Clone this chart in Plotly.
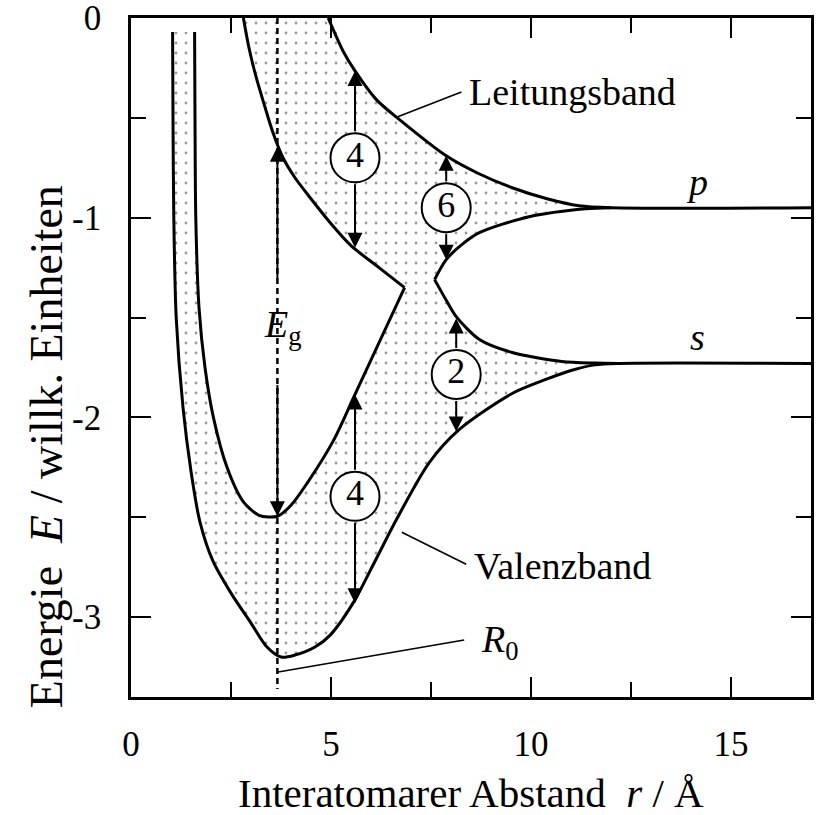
import plotly.graph_objects as go

# ---------------- data ----------------
# outer curve: lower edge of the valence band
val_low_r = [1.04, 1.05, 1.07, 1.13, 1.3, 1.5, 1.72, 2.05, 2.5, 3.0, 3.4, 3.75, 4.1, 4.6, 4.98, 5.55, 6.1, 6.64, 7.46, 8.21, 9.53, 10.37, 11.0, 11.6, 12.2, 17.0]
val_low_E = [-0.07, -0.5, -1.0, -1.5, -1.95, -2.27, -2.52, -2.72, -2.88, -3.03, -3.15, -3.2, -3.19, -3.15, -3.09, -2.93, -2.72, -2.51, -2.225, -2.06, -1.88, -1.81, -1.765, -1.737, -1.73, -1.73]

# V-shaped curve: upper edge of the valence band at small r
val_up_r = [1.59, 1.60, 1.62, 1.70, 1.85, 2.06, 2.4, 2.8, 3.2, 3.66, 4.0, 4.4, 5.05, 5.6, 6.84]
val_up_E = [-0.07, -0.5, -1.0, -1.45, -1.75, -2.0, -2.25, -2.42, -2.49, -2.495, -2.44, -2.33, -2.12, -1.885, -1.35]

# lower edge of the conduction band at small r
cond_low_r = [2.81, 2.95, 3.12, 3.31, 3.55, 3.8, 4.1, 4.48, 5.0, 5.5, 6.2, 6.84]
cond_low_E = [0.0, -0.15, -0.29, -0.42, -0.575, -0.7, -0.8, -0.9, -1.03, -1.14, -1.25, -1.35]

# upper edge of the conduction band
cond_up_r = [4.93, 5.3, 5.6, 6.14, 6.72, 7.88, 8.7, 9.53, 10.4, 11.2, 12.0, 17.0]
cond_up_E = [0.0, -0.165, -0.265, -0.41, -0.51, -0.69, -0.78, -0.85, -0.905, -0.94, -0.95, -0.95]

# lower edge of the p band (right of the crossing)
p_low_r = [7.59, 7.88, 8.3, 8.71, 9.95, 11.37, 12.0]
p_low_E = [-1.31, -1.21, -1.13, -1.075, -0.995, -0.955, -0.95]

# upper edge of the s band (right of the crossing)
s_up_r = [7.59, 7.9, 8.13, 8.71, 9.53, 10.77, 11.6, 12.2]
s_up_E = [-1.31, -1.42, -1.495, -1.61, -1.675, -1.72, -1.728, -1.73]

# circled numbers with double arrows
arrow_r = [5.6, 7.88, 8.13, 5.6]
arrow_top = [-0.265, -0.69, -1.505, -1.885]
arrow_bottom = [-1.15, -1.21, -2.07, -2.93]
circle_E = [-0.70, -0.95, -1.785, -2.395]
circle_text = ["4", "6", "2", "4"]

# band gap arrow at R0
R0 = 3.66
gap_top, gap_bottom = -0.645, -2.495
gap_label_E = -1.545
gap_break = [-1.31, -1.83]

# label texts and positions
labels = ["Leitungsband", "Valenzband"]
label_r = [8.41, 8.53]
label_E = [-0.37, -2.745]
pointer_from_r = [6.67, 6.77]
pointer_from_E = [-0.495, -2.575]
pointer_to_r = [8.26, 8.38]
pointer_to_E = [-0.37, -2.735]
band_names = ["p", "s"]
band_name_r = [14.15, 14.15]
band_name_E = [-0.82, -1.595]
r0_label = (8.7, -3.125)
r0_pointer_r = [3.68, 8.33]
r0_pointer_E = [-3.275, -3.115]

x_ticks = [0, 5, 10, 15]
y_ticks = [0, -1, -2, -3]
y_ticktext = ["0", "-1", "-2", "-3"]

FONT = "Liberation Serif"
LW = 3

fig = go.Figure()

# ---------- stippled band region ----------
poly_r = (val_low_r[:-1] + s_up_r[::-1] + p_low_r + cond_up_r[:-1][::-1]
          + cond_low_r + val_up_r[::-1])
poly_E = (val_low_E[:-1] + s_up_E[::-1] + p_low_E + cond_up_E[:-1][::-1]
          + cond_low_E + val_up_E[::-1])
fig.add_trace(go.Scatter(
    x=poly_r, y=poly_E, mode="lines", fill="toself",
    line=dict(width=0, color="rgba(0,0,0,0)", shape="spline", smoothing=0.8),
    fillcolor="rgba(0,0,0,0)",
    fillpattern=dict(shape=".", size=10, solidity=0.06, fgcolor="#333333", bgcolor="rgba(0,0,0,0)"),
    hoverinfo="skip", showlegend=False))

# ---------- band edges ----------
for xs, ys in [(val_low_r, val_low_E), (val_up_r, val_up_E), (cond_low_r, cond_low_E),
               (cond_up_r, cond_up_E), (p_low_r, p_low_E), (s_up_r, s_up_E)]:
    fig.add_trace(go.Scatter(x=xs, y=ys, mode="lines",
                             line=dict(color="black", width=LW, shape="spline", smoothing=0.8),
                             hoverinfo="skip", showlegend=False))

# R0 dashed vertical line
fig.add_trace(go.Scatter(x=[R0, R0], y=[0, -3.36], mode="lines",
                         line=dict(color="black", width=2.5, dash="6px,4px"),
                         hoverinfo="skip", showlegend=False))

# pointer lines
for i in range(2):
    fig.add_trace(go.Scatter(x=[pointer_from_r[i], pointer_to_r[i]],
                             y=[pointer_from_E[i], pointer_to_E[i]], mode="lines",
                             line=dict(color="black", width=1.6),
                             hoverinfo="skip", showlegend=False))
fig.add_trace(go.Scatter(x=r0_pointer_r, y=r0_pointer_E, mode="lines",
                         line=dict(color="black", width=1.6),
                         hoverinfo="skip", showlegend=False))

# circles with numbers
fig.add_trace(go.Scatter(x=arrow_r, y=circle_E, mode="markers+text", text=circle_text,
                         textposition="middle center",
                         textfont=dict(family=FONT, size=36, color="black"),
                         marker=dict(symbol="circle", size=49, color="white",
                                     line=dict(color="black", width=2)),
                         hoverinfo="skip", showlegend=False))

ann = []
CR = 0.125  # circle radius in energy units
ARW = dict(text="", showarrow=True, arrowhead=2, arrowsize=1.5, arrowwidth=2,
           arrowcolor="black", standoff=0, xref="x", yref="y", axref="x", ayref="y")
for r, t, b, c in zip(arrow_r, arrow_top, arrow_bottom, circle_E):
    ann.append(dict(x=r, y=t, ax=r, ay=c + CR, **ARW))
    ann.append(dict(x=r, y=b, ax=r, ay=c - CR, **ARW))
# band gap arrow
ann.append(dict(x=R0, y=gap_top, ax=R0, ay=gap_break[0], **ARW))
ann.append(dict(x=R0, y=gap_bottom, ax=R0, ay=gap_break[1], **ARW))
ann.append(dict(x=R0 + 0.15, y=gap_label_E, xref="x", yref="y", showarrow=False,
                text="<i>E</i><sub>g</sub>", font=dict(family=FONT, size=38, color="black")))

for t, r, e in zip(labels, label_r, label_E):
    ann.append(dict(x=r, y=e, xref="x", yref="y", showarrow=False, text=t,
                    xanchor="left", font=dict(family=FONT, size=38, color="black")))
for t, r, e in zip(band_names, band_name_r, band_name_E):
    ann.append(dict(x=r, y=e, xref="x", yref="y", showarrow=False, text="<i>%s</i>" % t,
                    font=dict(family=FONT, size=38, color="black")))
ann.append(dict(x=r0_label[0], y=r0_label[1], xref="x", yref="y", showarrow=False,
                text="<i>R</i><sub>0</sub>", xanchor="left",
                font=dict(family=FONT, size=38, color="black")))

# axis titles
ann.append(dict(x=0.5, y=-0.141, xref="paper", yref="paper", showarrow=False,
                xanchor="center", yanchor="middle",
                text="Interatomarer Abstand  <i>r</i> / Å",
                font=dict(family=FONT, size=41, color="black")))
ann.append(dict(x=-0.125, y=0.368, xref="paper", yref="paper", showarrow=False,
                xanchor="center", yanchor="middle",
                text="Energie  <i>E</i> / willk. Einheiten", textangle=-90,
                font=dict(family=FONT, size=46, color="black")))

fig.update_layout(
    width=819, height=815,
    margin=dict(l=131, r=8, t=18, b=118, autoexpand=False),
    plot_bgcolor="white", paper_bgcolor="white",
    showlegend=False, annotations=ann,
    font=dict(family=FONT, color="black"),
)
fig.update_xaxes(range=[0, 17], tickmode="array", tickvals=x_ticks,
                 ticks="inside", ticklen=20, tickwidth=2, tickcolor="black",
                 minor=dict(tickmode="linear", tick0=0, dtick=2.5, ticks="inside",
                            ticklen=15, tickwidth=2, tickcolor="black"),
                 showline=True, linewidth=2.5, linecolor="black", mirror="ticks",
                 showgrid=False, zeroline=False, automargin=False,
                 tickfont=dict(family=FONT, size=35, color="black"),
                 ticklabelstandoff=14, ticklabeloverflow="allow")
fig.update_yaxes(range=[-3.4, 0], tickmode="array", tickvals=y_ticks, ticktext=y_ticktext,
                 ticks="inside", ticklen=20, tickwidth=2, tickcolor="black",
                 minor=dict(tickmode="linear", tick0=0, dtick=0.5, ticks="inside",
                            ticklen=15, tickwidth=2, tickcolor="black"),
                 showline=True, linewidth=2.5, linecolor="black", mirror="ticks",
                 showgrid=False, zeroline=False, automargin=False,
                 tickfont=dict(family=FONT, size=35, color="black"),
                 ticklabelstandoff=20, ticklabeloverflow="allow")

# remove the default 8px page margin so the figure fills the window exactly
fig.write_html("out.html", config={"displayModeBar": False},
               post_script="document.body.style.margin='0';document.body.style.overflow='hidden';")
